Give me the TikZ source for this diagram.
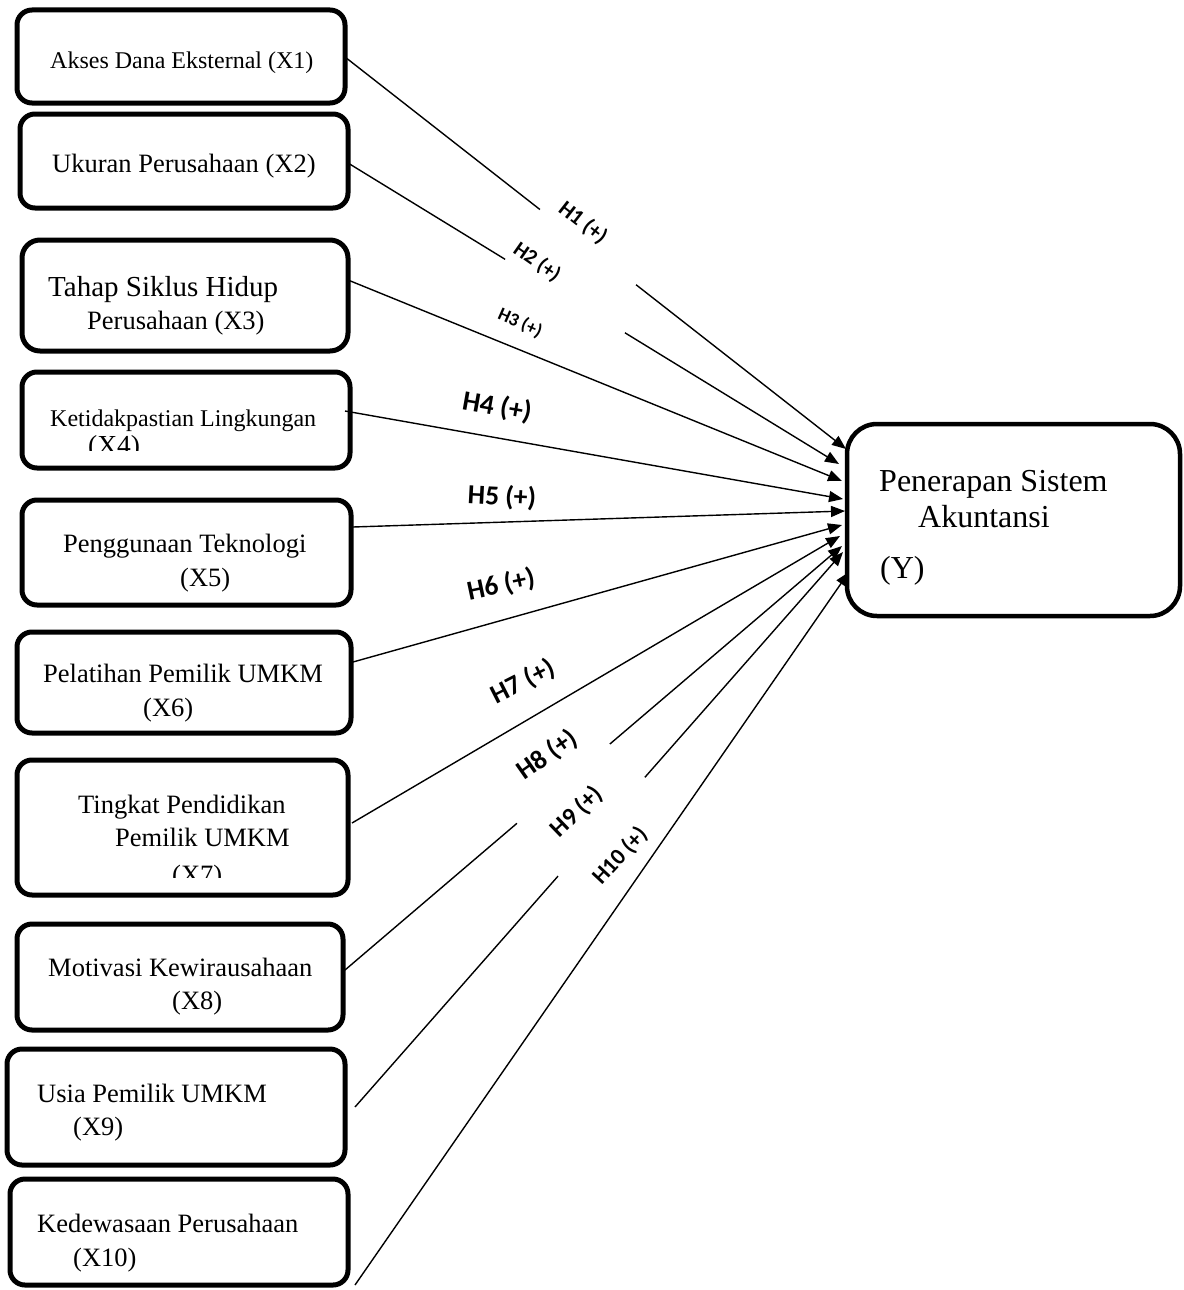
\documentclass[tikz,border=0pt]{standalone}
\usepackage{fontspec}
\setmainfont{Liberation Serif}
\newfontfamily\lblfont{Carlito}
\usetikzlibrary{arrows.meta,calc}
\begin{document}
\begin{tikzpicture}[x=1pt,y=-1pt,
  varbox/.style={draw, line width=5pt, rounded corners=15pt, anchor=north west, inner sep=0pt, outer sep=0pt},
  conn/.style={line width=1.4pt, -{Triangle[length=14pt,width=11pt]}},
  seg/.style={line width=1.4pt},
  txt/.style={anchor=base west, inner sep=0pt},
  hlbl/.style={inner sep=0pt},
]
\useasboundingbox (0,0) rectangle (1183,1290);

% boxes
\node[varbox, minimum width=328pt, minimum height=93pt] (X1) at (17,10) {};
\node[varbox, minimum width=328pt, minimum height=94pt] (X2) at (20,114) {};
\node[varbox, minimum width=326pt, minimum height=111pt, rounded corners=18pt] (X3) at (22,240) {};
\node[varbox, minimum width=328pt, minimum height=96pt] (X4) at (22,372) {};
\node[varbox, minimum width=329pt, minimum height=105pt] (X5) at (22,500) {};
\node[varbox, minimum width=334pt, minimum height=101pt] (X6) at (17,632) {};
\node[varbox, minimum width=331pt, minimum height=135pt] (X7) at (17,760) {};
\node[varbox, minimum width=326pt, minimum height=106pt] (X8) at (17,924) {};
\node[varbox, minimum width=338pt, minimum height=116pt] (X9) at (7,1049) {};
\node[varbox, minimum width=338pt, minimum height=106pt] (X10) at (10,1179) {};
\node[varbox, line width=4.5pt, rounded corners=30pt, minimum width=333pt, minimum height=192pt] (Y) at (847,424) {};

% texts
\node[txt, font=\fontsize{24}{28}\selectfont] (t1) at (50,69) {Akses Dana Eksternal (X1)};
\node[txt, font=\fontsize{26.5}{30}\selectfont] (t2) at (52,172) {Ukuran Perusahaan (X2)};
\node[txt, font=\fontsize{29}{33}\selectfont] (t3a) at (48,296) {Tahap Siklus Hidup};
\node[txt, font=\fontsize{26.5}{30}\selectfont] (t3b) at (87,329) {Perusahaan (X3)};
\node[txt, font=\fontsize{24}{28}\selectfont] (t4a) at (50,426) {Ketidakpastian Lingkungan};
\begin{scope}
\clip (0,0) rectangle (400,450);
\node[txt, font=\fontsize{27.5}{31}\selectfont] (t4b) at (88,454) {(X4)};
\end{scope}
\node[txt, font=\fontsize{26.5}{30}\selectfont] (t5a) at (63,552) {Penggunaan Teknologi};
\node[txt, font=\fontsize{26.5}{30}\selectfont] (t5b) at (180,586) {(X5)};
\node[txt, font=\fontsize{26.5}{30}\selectfont] (t6a) at (43,682) {Pelatihan Pemilik UMKM};
\node[txt, font=\fontsize{26.5}{30}\selectfont] (t6b) at (143,716) {(X6)};
\node[txt, font=\fontsize{26.5}{30}\selectfont] (t7a) at (78,813) {Tingkat Pendidikan};
\node[txt, font=\fontsize{26.5}{30}\selectfont] (t7b) at (115,846) {Pemilik UMKM};
\begin{scope}
\clip (0,0) rectangle (400,877);
\node[txt, font=\fontsize{26.5}{30}\selectfont] (t7c) at (172,883) {(X7)};
\end{scope}
\node[txt, font=\fontsize{26.5}{30}\selectfont] (t8a) at (48,976) {Motivasi Kewirausahaan};
\node[txt, font=\fontsize{26.5}{30}\selectfont] (t8b) at (172,1009) {(X8)};
\node[txt, font=\fontsize{26.5}{30}\selectfont] (t9a) at (37,1102) {Usia Pemilik UMKM};
\node[txt, font=\fontsize{26.5}{30}\selectfont] (t9b) at (73,1135) {(X9)};
\node[txt, font=\fontsize{26.5}{30}\selectfont] (t10a) at (37,1232) {Kedewasaan Perusahaan};
\node[txt, font=\fontsize{26.5}{30}\selectfont] (t10b) at (73,1266) {(X10)};
\node[txt, font=\fontsize{32}{36}\selectfont] (tya) at (879,491) {Penerapan Sistem};
\node[txt, font=\fontsize{32}{36}\selectfont] (tyb) at (918,527) {Akuntansi};
\node[txt, font=\fontsize{32}{36}\selectfont] (tyc) at (880,578) {(Y)};

% connector end points
\coordinate (s1) at (345,57);   \coordinate (e1) at (846,449);
\coordinate (s2) at (348,163);  \coordinate (e2) at (839,464);
\coordinate (s3) at (348,280);  \coordinate (e3) at (842,481);
\coordinate (s4) at (345,411);  \coordinate (e4) at (843,499);
\coordinate (s5) at (353,527);  \coordinate (e5) at (845,511);
\coordinate (s6) at (353,662);  \coordinate (e6) at (842,525);
\coordinate (s7) at (352,823);  \coordinate (e7) at (840,536);
\coordinate (s8) at (345,970);  \coordinate (e8) at (842,546);
\coordinate (s9) at (355,1107); \coordinate (e9) at (843,552);
\coordinate (s10) at (355,1285); \coordinate (e10) at (849,572);

% connectors
\draw[seg] (s1) -- ($(s1)!0.389!(e1)$);
\draw[conn] ($(s1)!0.581!(e1)$) -- (e1);
\draw[seg] (s2) -- ($(s2)!0.320!(e2)$);
\draw[conn] ($(s2)!0.564!(e2)$) -- (e2);
\draw[conn] (s3) -- (e3);
\draw[conn] (s4) -- (e4);
\draw[conn] (s5) -- (e5);
\draw[conn] (s6) -- (e6);
\draw[conn] (s7) -- (e7);
\draw[seg] (s8) -- ($(s8)!0.346!(e8)$);
\draw[conn] ($(s8)!0.533!(e8)$) -- (e8);
\draw[seg] (s9) -- ($(s9)!0.416!(e9)$);
\draw[conn] ($(s9)!0.594!(e9)$) -- (e9);
\draw[conn] (s10) -- (e10);

% labels
\node[hlbl, rotate=-38, font=\lblfont\bfseries\fontsize{22}{25}\selectfont] (h1) at (583,223) {H1 (+)};
\node[hlbl, rotate=-35, font=\lblfont\bfseries\fontsize{21}{24}\selectfont] (h2) at (537,262) {H2 (+)};
\node[hlbl, rotate=-24, font=\lblfont\bfseries\fontsize{18.5}{21}\selectfont] (h3) at (520,323) {H3 (+)};
\node[hlbl, rotate=-10, font=\lblfont\bfseries\fontsize{28}{32}\selectfont] (h4) at (497,407) {H4 (+)};
\node[hlbl, rotate=-3, font=\lblfont\bfseries\fontsize{27.5}{31}\selectfont] (h5) at (502,497) {H5 (+)};
\node[hlbl, rotate=12, font=\lblfont\bfseries\fontsize{27.5}{31}\selectfont] (h6) at (501,585) {H6 (+)};
\node[hlbl, rotate=27, font=\lblfont\bfseries\fontsize{27}{31}\selectfont] (h7) at (523,682) {H7 (+)};
\node[hlbl, rotate=35, font=\lblfont\bfseries\fontsize{27}{31}\selectfont] (h8) at (547,755) {H8 (+)};
\node[hlbl, rotate=44, font=\lblfont\bfseries\fontsize{25}{29}\selectfont] (h9) at (577,812) {H9 (+)};
\node[hlbl, rotate=47, font=\lblfont\bfseries\fontsize{23}{27}\selectfont] (h10) at (620,856) {H10 (+)};
\end{tikzpicture}
\end{document}
